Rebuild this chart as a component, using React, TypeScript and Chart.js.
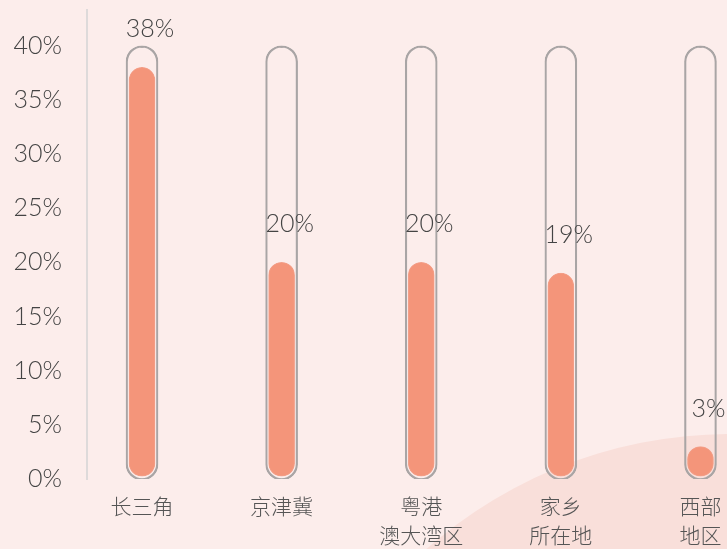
import React, { useEffect, useRef } from 'react';
import { Chart, registerables } from 'chart.js';

Chart.register(...registerables);

const categories: string[][] = [['长三角'], ['京津冀'], ['粤港', '澳大湾区'], ['家乡', '所在地'], ['西部', '地区']];
const values: number[] = [38, 20, 20, 19, 3];
const trackMax = 40;
const yTickValues: number[] = [0, 5, 10, 15, 20, 25, 30, 35, 40];

const BG = '#fcedeb';
const CIRCLE = '#f9dfda';

const bgPlugin = {
  id: 'bgPlugin',
  beforeDraw(chart: any) {
    const { ctx, width, height } = chart;
    ctx.save();
    ctx.fillStyle = BG;
    ctx.fillRect(0, 0, width, height);
    ctx.beginPath();
    ctx.arc(width + 4, height + 346, 461, 0, Math.PI * 2);
    ctx.fillStyle = CIRCLE;
    ctx.fill();
    ctx.restore();
  },
};

const labelPlugin = {
  id: 'labelPlugin',
  afterDatasetsDraw(chart: any) {
    const { ctx } = chart;
    const meta = chart.getDatasetMeta(0);
    const yScale = chart.scales.y;
    ctx.save();
    ctx.font = '300 25px Lato, "Open Sans", sans-serif';
    ctx.fillStyle = '#444444';
    ctx.textAlign = 'center';
    ctx.textBaseline = 'middle';
    meta.data.forEach((el: any, i: number) => {
      const y = yScale.getPixelForValue(values[i]);
      ctx.fillText(values[i] + '%', el.x + 8, y - 38);
    });
    ctx.restore();
  },
};

export default function App() {
  const ref = useRef<HTMLCanvasElement>(null);
  useEffect(() => {
    if (!ref.current) return;
    const chart = new Chart(ref.current, {
      type: 'bar',
      data: {
        datasets: [
          {
            label: 'value',
            data: values.map((v, i) => ({ x: i, y: [0.25, v] })) as any,
            backgroundColor: '#f4957a',
            borderColor: '#f3a08a',
            borderWidth: 1,
            borderRadius: 14,
            borderSkipped: false,
            barThickness: 26,
            grouped: false,
          } as any,
          {
            label: 'track',
            data: values.map((_, i) => ({ x: i, y: [-0.1, trackMax] })) as any,
            backgroundColor: 'rgba(0,0,0,0)',
            borderColor: '#a9a5a5',
            borderWidth: 1.5,
            borderRadius: 16,
            borderSkipped: false,
            barThickness: 32,
            grouped: false,
          } as any,
        ],
      },
      options: {
        responsive: false,
        animation: false,
        layout: { padding: { top: 10, left: 0, right: 0, bottom: 0 } },
        plugins: {
          legend: { display: false },
          tooltip: { enabled: false },
        },
        scales: {
          x: {
            type: 'linear',
            offset: false,
            min: -0.394,
            max: 4.19,
            grid: { display: false, drawTicks: false },
            border: { display: false },
            afterBuildTicks: (scale: any) => {
              scale.ticks = categories.map((_, i) => ({ value: i }));
            },
            afterFit: (scale: any) => {
              scale.height = 70;
              scale.paddingLeft = 0;
              scale.paddingRight = 0;
            },
            ticks: {
              autoSkip: false,
              maxRotation: 0,
              minRotation: 0,
              padding: 13,
              color: '#555555',
              font: { family: '"Noto Sans CJK SC", sans-serif', size: 21, weight: '300' as any, lineHeight: 1.38 },
              callback: (v: any) => categories[Math.round(Number(v))] ?? '',
            },
          },
          y: {
            type: 'linear',
            min: 0,
            max: 43.3,
            grid: { display: false, drawTicks: false },
            border: { display: true, color: '#dedada', width: 2 },
            afterBuildTicks: (scale: any) => {
              scale.ticks = yTickValues.map((v) => ({ value: v }));
            },
            afterFit: (scale: any) => {
              scale.width = 87;
              scale.paddingTop = 0;
              scale.paddingBottom = 0;
            },
            ticks: {
              padding: 25,
              color: '#444444',
              font: { family: 'Lato, "Open Sans", sans-serif', size: 25, weight: '300' as any },
              callback: (v: any) => v + '%',
            },
          },
        },
      } as any,
      plugins: [bgPlugin, labelPlugin],
    });
    return () => chart.destroy();
  }, []);
  return (
    <div style={{ position: 'fixed', left: 0, top: 0, width: 727, height: 549, overflow: 'hidden', background: BG }}>
      <canvas ref={ref} width={727} height={549} style={{ display: 'block' }} />
    </div>
  );
}
